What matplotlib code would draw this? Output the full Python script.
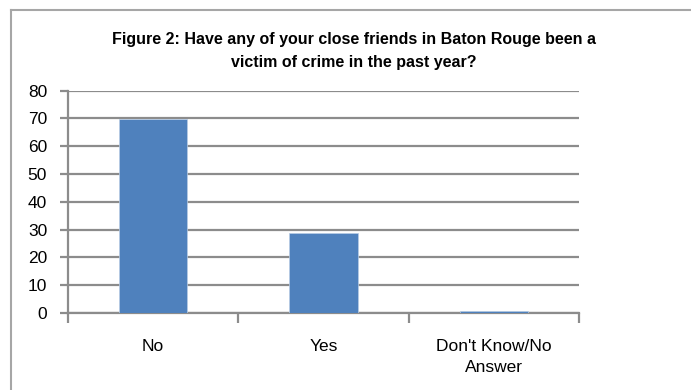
import matplotlib
matplotlib.use("Agg")
import matplotlib.pyplot as plt
from matplotlib.lines import Line2D

categories = ["No", "Yes", "Don't Know/No\nAnswer"]
responses = [69.8, 28.8, 0.7]
yticks = [0, 10, 20, 30, 40, 50, 60, 70, 80]
title = ("Figure 2: Have any of your close friends in Baton Rouge been a\n"
         "victim of crime in the past year?")

plt.rcParams['font.family'] = ['Liberation Sans', 'DejaVu Sans']

W, H = 691, 390
fig = plt.figure(figsize=(W / 100, H / 100), dpi=100)

# outer chart frame: only its top and left edges fall inside the canvas
frame_col = '#a6a6a6'
fx, fy = 11 / W, 1 - 10 / H
fig.add_artist(Line2D([fx, 1.0], [fy, fy], transform=fig.transFigure,
                      color=frame_col, linewidth=1.5))
fig.add_artist(Line2D([fx, fx], [0.0, fy], transform=fig.transFigure,
                      color=frame_col, linewidth=1.5))

ax = fig.add_axes([68 / W, 1 - 313 / H, (579 - 68) / W, (313 - 90.7) / H])

grid_col = '#8c8c8c'
x = range(len(categories))
ax.bar(x, responses, width=0.40, color='#4f81bd', edgecolor='#b9cde5',
       linewidth=0.5, zorder=3)

ax.set_xlim(-0.5, len(categories) - 0.5)
ax.set_ylim(0, 80)
ax.set_yticks(yticks)
ax.yaxis.grid(True, color=grid_col, linewidth=1.6, zorder=0)
ax.set_axisbelow(True)

for s in ['top', 'right']:
    ax.spines[s].set_visible(False)
for s in ['left', 'bottom']:
    ax.spines[s].set_color(grid_col)
    ax.spines[s].set_linewidth(1.6)

# category ticks sit on the boundaries between bars
ax.set_xticks([i - 0.5 for i in range(len(categories) + 1)])
ax.set_xticklabels([])
ax.set_xticks(list(x), minor=True)
ax.set_xticklabels(categories, minor=True, fontsize=12.5, linespacing=1.5)
ax.tick_params(axis='x', which='major', length=7, width=1.6, color=grid_col)
ax.tick_params(axis='x', which='minor', length=0, pad=19)
ax.tick_params(axis='y', length=6, width=1.6, color=grid_col, labelsize=12.5, pad=9)

fig.text(354 / W, 1 - 51 / H, title, ha='center', va='center',
         fontsize=11.5, fontweight='bold', linespacing=1.65)

fig.savefig("out.png", dpi=100)
